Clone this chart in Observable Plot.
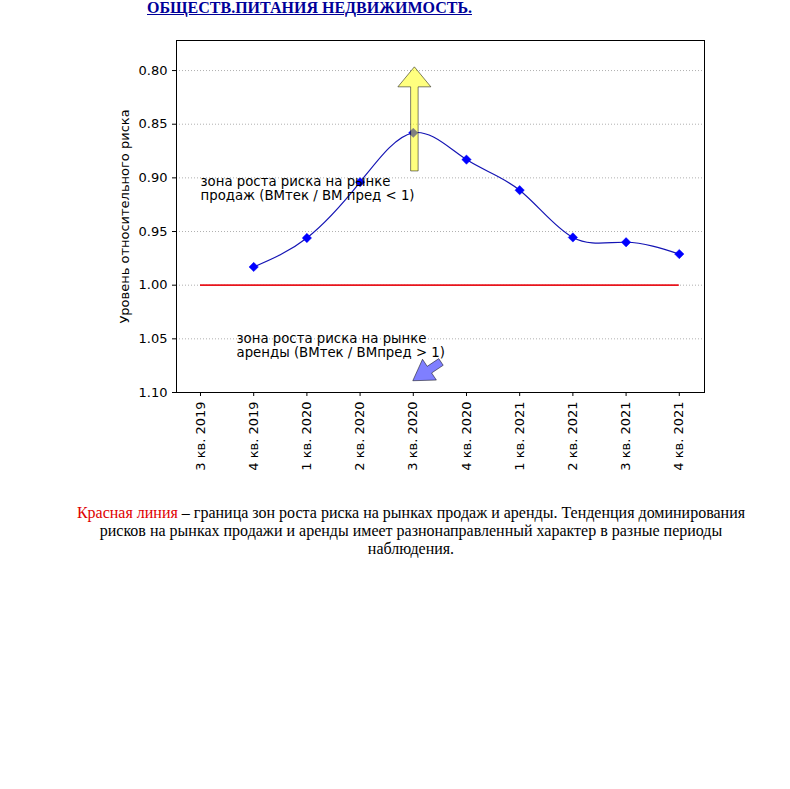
<!DOCTYPE html>
<html>
<head>
<meta charset="utf-8">
<script src="https://cdn.jsdelivr.net/npm/d3@7"></script>
<script src="https://cdn.jsdelivr.net/npm/@observablehq/plot@0.6"></script>
<style>
  html, body { margin: 0; padding: 0; background: #fff; }
  #page { position: relative; width: 790px; height: 789px; overflow: hidden; background: #fff; }
  #title { position: absolute; left: 147px; top: 0px; font: bold 16px/16px "Liberation Serif", serif; color: #000099; text-decoration: underline; white-space: nowrap; }
  #chart { position: absolute; left: 0; top: 0; }
  #caption { position: absolute; left: 61px; top: 504px; width: 700px; text-align: center; font: 16px/18px "Liberation Serif", serif; color: #000; white-space: nowrap; }
  #caption .red { color: #e00000; }
</style>
</head>
<body>
<div id="page">
  <div id="chart"></div>
  <div id="title">ОБЩЕСТВ.ПИТАНИЯ НЕДВИЖИМОСТЬ.</div>
  <div id="caption"><span class="red">Красная линия</span> – граница зон роста риска на рынках продаж и аренды. Тенденция доминирования<br>рисков на рынках продажи и аренды имеет разнонаправленный характер в разные периоды<br>наблюдения.</div>
</div>
<script>
// ---- data ----
const quarters = ["3 кв. 2019", "4 кв. 2019", "1 кв. 2020", "2 кв. 2020", "3 кв. 2020",
                  "4 кв. 2020", "1 кв. 2021", "2 кв. 2021", "3 кв. 2021", "4 кв. 2021"];
const riskValues = [null, 0.983, 0.956, 0.904, 0.858, 0.883, 0.9115, 0.9555, 0.960, 0.971];
const boundaryValue = 1.00;
const yTicks = [0.80, 0.85, 0.90, 0.95, 1.00, 1.05, 1.10];
const yLabel = "Уровень относительного риска";
const noteSales = "зона роста риска на рынке\nпродаж (ВМтек / ВМ пред < 1)";
const noteRent = "зона роста риска на рынке\nаренды (ВМтек / ВМпред > 1)";
const notePositions = [[0, 0.910], [0.677, 1.0562]];
const yellowArrow = {from: [4.03, 0.894], to: [4.03, 0.797]};
const blueArrow = {from: [4.53, 1.072], to: [4.0, 1.0895]};

// ---- build ----
const series = riskValues.map((v, i) => ({i, v})).filter(d => d.v != null);
const boundary = [{x1: 0, x2: quarters.length - 1, y: boundaryValue}];
const notes = [
  {x: notePositions[0][0], y: notePositions[0][1], text: noteSales},
  {x: notePositions[1][0], y: notePositions[1][1], text: noteRent}
];

function arrowMark(spec, fill, w, hw, hl) {
  return (index, scales) => {
    const x0 = scales.x(spec.from[0]), y0 = scales.y(spec.from[1]);
    const x1 = scales.x(spec.to[0]), y1 = scales.y(spec.to[1]);
    const len = Math.hypot(x1 - x0, y1 - y0);
    const ux = (x1 - x0) / len, uy = (y1 - y0) / len;
    const nx = -uy, ny = ux;
    const bx = x1 - ux * hl, by = y1 - uy * hl;
    const pts = [
      [x0 + nx * w / 2, y0 + ny * w / 2],
      [bx + nx * w / 2, by + ny * w / 2],
      [bx + nx * hw / 2, by + ny * hw / 2],
      [x1, y1],
      [bx - nx * hw / 2, by - ny * hw / 2],
      [bx - nx * w / 2, by - ny * w / 2],
      [x0 - nx * w / 2, y0 - ny * w / 2]
    ];
    const g = d3.create("svg:g");
    g.append("polygon")
      .attr("points", pts.map(p => p.join(",")).join(" "))
      .attr("fill", fill).attr("fill-opacity", 0.5)
      .attr("stroke", "#000").attr("stroke-opacity", 0.5).attr("stroke-width", 1);
    return g.node();
  };
}

const chart = Plot.plot({
  width: 790,
  height: 490,
  marginLeft: 176,
  marginRight: 86,
  marginTop: 40,
  marginBottom: 98,
  style: {fontFamily: "DejaVu Sans", fontSize: "13px", color: "#000", background: "#fff"},
  x: {type: "linear", domain: [-0.451, 9.474]},
  y: {domain: [0.772, 1.10], reverse: true},
  marks: [
    Plot.gridY(yTicks, {stroke: "#b0b0b0", strokeOpacity: 1, strokeDasharray: "1,2"}),
    Plot.frame({stroke: "#000", strokeWidth: 1}),
    Plot.ruleY(boundary, {x1: "x1", x2: "x2", y: "y", stroke: "#e8141c", strokeWidth: 1.8}),
    Plot.line(series, {x: "i", y: "v", curve: "natural", stroke: "#1414b4", strokeWidth: 1.2}),
    Plot.dot(series, {x: "i", y: "v", symbol: "diamond2", r: 4.2, fill: "#0000ff", stroke: "#0000ff", strokeWidth: 0.5}),
    arrowMark(yellowArrow, "#ffff00", 7.5, 33, 20),
    arrowMark(blueArrow, "#0000ff", 8, 25, 20),
    Plot.text(notes, {x: "x", y: "y", text: "text", textAnchor: "start", lineAnchor: "middle", lineHeight: 1.07, fontSize: 13.3, fill: "#000"}),
    Plot.axisY(yTicks, {tickFormat: d3.format(".2f"), tickSize: 4, tickPadding: 5, label: null, fontSize: 13}),
    Plot.axisX(d3.range(quarters.length), {tickFormat: i => quarters[i], tickRotate: -90, tickSize: 4, tickPadding: 5, label: null, fontSize: 13}),
    Plot.text([yLabel], {frameAnchor: "left", text: d => d, rotate: -90, dx: -52, textAnchor: "middle", fontSize: 13, fill: "#000"})
  ]
});
document.getElementById("chart").appendChild(chart);
</script>
</body>
</html>
